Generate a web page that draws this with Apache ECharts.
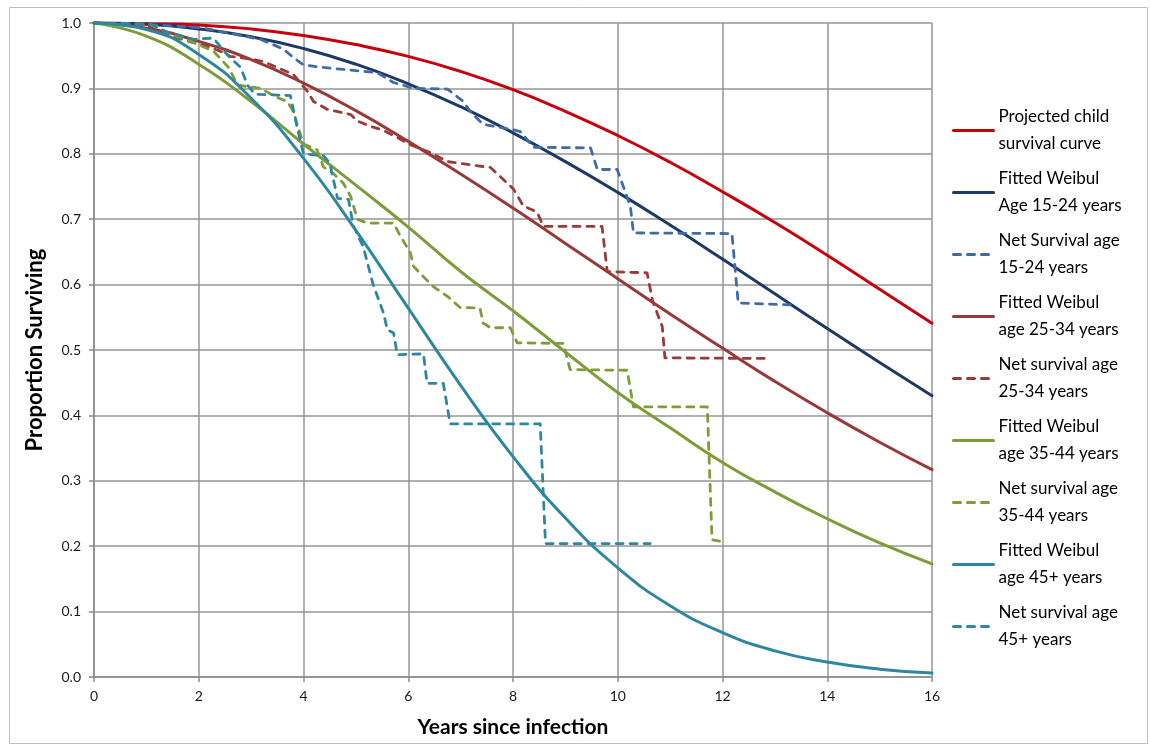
<!DOCTYPE html>
<html>
<head>
<meta charset="utf-8">
<title>Survival by age group</title>
<script src="https://cdn.jsdelivr.net/npm/echarts@6/dist/echarts.min.js"></script>
<style>
  html, body { margin: 0; padding: 0; background: #fff; }
  #chart { width: 1150px; height: 747px; }
</style>
</head>
<body>
<div id="chart"></div>
<script>
// Years since infection at which the fitted curves are sampled
const fitYears = [0, 1, 2, 3, 4, 5, 6, 7, 8, 9, 10, 11, 12, 13, 14, 15, 16];

// Fitted / projected survival curves
const childProjected = [1.0, 0.999, 0.997, 0.991, 0.981, 0.967, 0.949, 0.926, 0.898, 0.865, 0.828, 0.787, 0.742, 0.695, 0.645, 0.593, 0.541];
const weibull1524 = [1.0, 0.998, 0.991, 0.979, 0.961, 0.937, 0.907, 0.872, 0.832, 0.788, 0.741, 0.691, 0.639, 0.586, 0.533, 0.481, 0.430];
const weibull2534 = [1.0, 0.992, 0.972, 0.944, 0.908, 0.866, 0.819, 0.769, 0.717, 0.663, 0.609, 0.555, 0.503, 0.452, 0.404, 0.359, 0.317];
const weibull3544 = [1.0, 0.980, 0.937, 0.880, 0.815, 0.752, 0.688, 0.620, 0.560, 0.497, 0.435, 0.381, 0.328, 0.283, 0.242, 0.205, 0.173];
const weibull45 = [1.0, 0.990, 0.952, 0.885, 0.793, 0.683, 0.564, 0.446, 0.337, 0.243, 0.167, 0.109, 0.068, 0.040, 0.023, 0.012, 0.006];

// Net survival (observed) – time points and proportions
const net1524Years = [0, 0.75, 2.03, 2.55, 3.18, 3.62, 3.81, 4.0, 4.38, 5.41, 5.72, 6.1, 6.75, 7.05, 7.19, 7.43, 8.0, 8.14, 8.39, 9.48, 9.61, 9.99, 10.24, 10.3, 12.18, 12.3, 13.29];
const net1524 = [1.0, 0.999, 0.993, 0.985, 0.975, 0.96, 0.947, 0.936, 0.932, 0.924, 0.909, 0.900, 0.899, 0.88, 0.864, 0.845, 0.837, 0.834, 0.81, 0.809, 0.776, 0.776, 0.72, 0.679, 0.678, 0.572, 0.569];

const net2534Years = [0, 1.02, 1.08, 1.46, 1.9, 2.17, 2.41, 2.6, 2.98, 3.23, 3.5, 3.81, 4.07, 4.19, 4.45, 4.9, 5.03, 5.28, 5.52, 5.79, 6.04, 6.42, 6.75, 6.94, 7.57, 7.76, 8.01, 8.2, 8.46, 8.58, 9.7, 9.8, 10.56, 10.66, 10.75, 10.85, 10.9, 12.91];
const net2534 = [1.0, 0.998, 0.993, 0.98, 0.97, 0.964, 0.957, 0.949, 0.945, 0.941, 0.932, 0.921, 0.896, 0.88, 0.868, 0.86, 0.85, 0.842, 0.836, 0.825, 0.814, 0.802, 0.788, 0.786, 0.779, 0.765, 0.746, 0.72, 0.711, 0.689, 0.689, 0.62, 0.618, 0.577, 0.557, 0.536, 0.488, 0.487];

const net3544Years = [0, 1.08, 1.46, 1.84, 2.28, 2.57, 2.74, 3.18, 3.5, 3.69, 3.81, 3.88, 4.0, 4.26, 4.38, 4.57, 4.76, 4.9, 5.03, 5.22, 5.72, 5.85, 6.04, 6.1, 6.29, 6.48, 6.75, 6.99, 7.37, 7.43, 7.57, 7.95, 8.08, 8.96, 9.09, 10.18, 10.3, 11.71, 11.8, 11.99];
const net3544 = [1.0, 0.998, 0.983, 0.972, 0.957, 0.932, 0.905, 0.90, 0.886, 0.88, 0.864, 0.845, 0.815, 0.806, 0.78, 0.77, 0.755, 0.735, 0.70, 0.694, 0.694, 0.674, 0.649, 0.628, 0.612, 0.597, 0.582, 0.565, 0.564, 0.541, 0.534, 0.534, 0.511, 0.51, 0.47, 0.469, 0.413, 0.413, 0.21, 0.207];

const net45Years = [0, 1.08, 1.4, 1.9, 2.28, 2.45, 2.6, 2.8, 2.93, 3.08, 3.75, 3.88, 4.0, 4.38, 4.5, 4.65, 4.86, 4.95, 5.14, 5.33, 5.53, 5.6, 5.72, 5.79, 6.29, 6.36, 6.67, 6.8, 8.52, 8.62, 10.62];
const net45 = [1.0, 0.998, 0.986, 0.975, 0.977, 0.96, 0.947, 0.932, 0.905, 0.891, 0.889, 0.84, 0.80, 0.797, 0.786, 0.732, 0.730, 0.69, 0.658, 0.60, 0.556, 0.531, 0.526, 0.493, 0.494, 0.449, 0.449, 0.387, 0.387, 0.204, 0.204];

// Axis ticks
const xTicks = [0, 2, 4, 6, 8, 10, 12, 14, 16];
const yTicks = [0.0, 0.1, 0.2, 0.3, 0.4, 0.5, 0.6, 0.7, 0.8, 0.9, 1.0];

const zip = (xs, ys) => xs.map((x, i) => [x, ys[i]]);

const FONT = 'Lato, "Open Sans", sans-serif';

function solid(name, xs, ys, color) {
  return {
    name, type: 'line', data: zip(xs, ys),
    smooth: 0.5,
    showSymbol: false, symbol: 'none',
    lineStyle: { color, width: 3, cap: 'round', join: 'round' },
    itemStyle: { color },
    z: 3
  };
}
function dashed(name, xs, ys, color) {
  return {
    name, type: 'line', data: zip(xs, ys),
    smooth: false,
    showSymbol: false, symbol: 'none',
    lineStyle: { color, width: 2.8, type: [7, 7], cap: 'round', join: 'round' },
    itemStyle: { color },
    z: 3
  };
}

const chart = echarts.init(document.getElementById('chart'), null, { renderer: 'canvas' });

chart.setOption({
  backgroundColor: '#ffffff',
  animation: false,
  textStyle: { fontFamily: FONT },
  graphic: [{
    type: 'rect', left: 7, top: 5,
    shape: { width: 1138, height: 736 },
    style: { fill: 'none', stroke: '#bfbfbf', lineWidth: 1 },
    silent: true
  }],
  grid: { left: 94, top: 23, right: 218, bottom: 70, containLabel: false },
  legend: {
    orient: 'vertical',
    left: 952, top: 90,
    padding: 0,
    itemWidth: 40, itemHeight: 14,
    itemGap: -19,
    itemStyle: { opacity: 0 },
    lineStyle: { width: 3 },
    textStyle: {
      fontFamily: FONT, fontSize: 17, color: '#000',
      lineHeight: 27, padding: [27, 0, 0, 0]
    },
    data: [
      'Projected child\nsurvival curve',
      'Fitted Weibul\nAge 15-24 years',
      'Net Survival age\n15-24 years',
      'Fitted Weibul\nage 25-34 years',
      'Net survival age\n25-34 years',
      'Fitted Weibul\nage 35-44 years',
      'Net survival age\n35-44 years',
      'Fitted Weibul\nage 45+ years',
      'Net survival age\n45+ years'
    ]
  },
  xAxis: {
    type: 'value', min: xTicks[0], max: xTicks[xTicks.length - 1], interval: 2,
    name: 'Years since infection', nameLocation: 'middle', nameGap: 40,
    nameTextStyle: { fontFamily: FONT, fontSize: 21, fontWeight: 'bold', color: '#000' },
    axisLine: { show: true, lineStyle: { color: '#8c8c8c', width: 1.5 } },
    axisTick: { show: true, inside: false, length: 5, lineStyle: { color: '#8c8c8c', width: 1.5 } },
    axisLabel: { fontSize: 14, color: '#1a1a1a', margin: 12, formatter: v => String(v) },
    splitLine: { show: true, lineStyle: { color: '#969696', width: 1.5 } }
  },
  yAxis: {
    type: 'value', min: yTicks[0], max: yTicks[yTicks.length - 1], interval: 0.1,
    name: 'Proportion Surviving', nameLocation: 'middle', nameGap: 48, nameRotate: 90,
    nameTextStyle: { fontFamily: FONT, fontSize: 22, fontWeight: 'bold', color: '#000' },
    axisLine: { show: true, lineStyle: { color: '#8c8c8c', width: 1.5 } },
    axisTick: { show: true, inside: false, length: 5, lineStyle: { color: '#8c8c8c', width: 1.5 } },
    axisLabel: { fontSize: 14, color: '#1a1a1a', margin: 13, formatter: v => v.toFixed(1) },
    splitLine: { show: true, lineStyle: { color: '#969696', width: 1.5 } }
  },
  series: [
    solid('Projected child\nsurvival curve', fitYears, childProjected, '#c8000a'),
    solid('Fitted Weibul\nAge 15-24 years', fitYears, weibull1524, '#1b3a66'),
    dashed('Net Survival age\n15-24 years', net1524Years, net1524, '#3f6ca6'),
    solid('Fitted Weibul\nage 25-34 years', fitYears, weibull2534, '#983a38'),
    dashed('Net survival age\n25-34 years', net2534Years, net2534, '#9b3a38'),
    solid('Fitted Weibul\nage 35-44 years', fitYears, weibull3544, '#7f9c3a'),
    dashed('Net survival age\n35-44 years', net3544Years, net3544, '#7f9c3a'),
    solid('Fitted Weibul\nage 45+ years', fitYears, weibull45, '#2e87a0'),
    dashed('Net survival age\n45+ years', net45Years, net45, '#2e87a0')
  ]
});
</script>
</body>
</html>
